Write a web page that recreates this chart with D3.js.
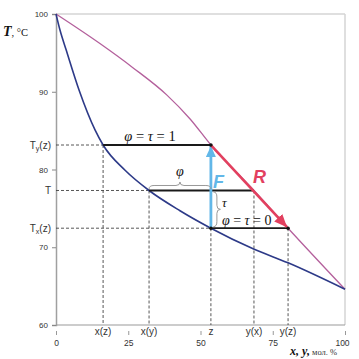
<!DOCTYPE html>
<html>
<head>
<meta charset="utf-8">
<script src="https://cdn.jsdelivr.net/npm/d3@7"></script>
<style>
  html, body { margin: 0; padding: 0; background: #fff; }
  svg { display: block; }
</style>
</head>
<body>
<svg id="chart" width="359" height="359"></svg>
<script>
// ---------- data ----------
const xTicks = [0, 25, 50, 75, 100];
const yTicks = [60, 70, 80, 90, 100];

// liquid (boiling) curve T(x)
const liquidX = [0, 1.4, 3.5, 8.0, 13.5, 16.3, 23.9, 32.2, 42.9, 53.6, 68.2, 80.3, 100];
const liquidT = [100, 97.9, 95.4, 90.2, 85.1, 83.15, 79.9, 77.3, 74.7, 72.45, 69.8, 68.0, 64.6];

// vapour (dew) curve T(y)
const vaporY = [0, 15.2, 26.6, 38.3, 46.4, 53.6, 68.5, 80.3, 100];
const vaporT = [100, 96.2, 93.1, 89.6, 86.5, 83.15, 77.3, 72.45, 64.6];

// special compositions on the x axis
const specialXLabels = ["x(z)", "x(y)", "z", "y(x)", "y(z)"];
const specialXValues = [16.3, 32.2, 53.6, 68.5, 80.3];

// special temperatures on the y axis
const specialYNames = ["Ty(z)", "T", "Tx(z)"];
const specialYValues = [83.15, 77.3, 72.45];

// ---------- layout ----------
const svg = d3.select("#chart");
const mLeft = 56, mRight = 345, mTop = 14, mBottom = 325;
const x = d3.scaleLinear().domain([0, 100]).range([mLeft, mRight]);
const y = d3.scaleLinear().domain([60, 100]).range([mBottom, mTop]);

const [xz, xy, z, yx, yz] = specialXValues;
const [Tyz, T, Txz] = specialYValues;

const sans = "'Liberation Sans', Arial, sans-serif";
const serif = "'Liberation Serif', 'Times New Roman', serif";

// frame
svg.append("line").attr("x1", x(0)).attr("x2", x(100)).attr("y1", y(100)).attr("y2", y(100))
  .attr("stroke", "#d4d4d4").attr("stroke-width", 1.5);
svg.append("line").attr("x1", x(100)).attr("x2", x(100)).attr("y1", y(100)).attr("y2", y(60))
  .attr("stroke", "#d4d4d4").attr("stroke-width", 1.5);

// y axis
const yAxis = svg.append("g").attr("transform", `translate(${mLeft},0)`)
  .call(d3.axisLeft(y).tickValues(yTicks).tickSize(4).tickPadding(4));
yAxis.select(".domain").attr("stroke", "#a0a0a0").attr("stroke-width", 1.5);
yAxis.selectAll(".tick line").attr("stroke", "#888");
yAxis.selectAll(".tick text").attr("font-family", sans).attr("font-size", 8).attr("fill", "#333");

// x axis line
svg.append("line").attr("x1", x(0)).attr("x2", x(100)).attr("y1", y(60)).attr("y2", y(60))
  .attr("stroke", "#999").attr("stroke-width", 1.2);
// x ticks & labels (below the special labels)
const xAxis = svg.append("g").attr("transform", `translate(0,${mBottom + 6})`)
  .call(d3.axisBottom(x).tickValues(xTicks).tickSize(4).tickPadding(5));
xAxis.select(".domain").remove();
xAxis.selectAll(".tick line").attr("stroke", "#999");
xAxis.selectAll(".tick text").attr("font-family", sans).attr("font-size", 8.5).attr("fill", "#333")
  .attr("dx", d => d === 100 ? -3 : 0);

// dashed guides
const dash = svg.append("g").attr("stroke", "#444").attr("stroke-width", 0.9)
  .attr("stroke-dasharray", "3,2").attr("fill", "none");
const vGuides = [[xz, Tyz], [xy, T], [z, Txz], [yx, T], [yz, Txz]];
vGuides.forEach(([vx, vt]) => {
  dash.append("line").attr("x1", x(vx)).attr("x2", x(vx)).attr("y1", y(vt)).attr("y2", y(60));
});
const hGuides = [[xz, Tyz], [xy, T], [z, Txz]];
hGuides.forEach(([vx, vt]) => {
  dash.append("line").attr("x1", x(0)).attr("x2", x(vx)).attr("y1", y(vt)).attr("y2", y(vt));
});

// curves
const line = d3.line().x(d => x(d[0])).y(d => y(d[1])).curve(d3.curveMonotoneX);
svg.append("path").datum(vaporY.map((v, i) => [v, vaporT[i]]))
  .attr("d", line).attr("fill", "none").attr("stroke", "#b4609c").attr("stroke-width", 1.3);
svg.append("path").datum(liquidX.map((v, i) => [v, liquidT[i]]))
  .attr("d", line).attr("fill", "none").attr("stroke", "#2d3a88").attr("stroke-width", 1.6);

// tie lines
const tie = svg.append("g").attr("stroke", "#1a1a1a").attr("stroke-width", 1.8);
tie.append("line").attr("x1", x(xz)).attr("x2", x(z)).attr("y1", y(Tyz)).attr("y2", y(Tyz));
tie.append("line").attr("x1", x(xy)).attr("x2", x(yx)).attr("y1", y(T)).attr("y2", y(T));
tie.append("line").attr("x1", x(z)).attr("x2", x(yz)).attr("y1", y(Txz)).attr("y2", y(Txz));

// arrow markers
const defs = svg.append("defs");
function marker(id, color, len, wid) {
  defs.append("marker").attr("id", id).attr("markerUnits", "userSpaceOnUse")
    .attr("viewBox", `0 0 ${len} ${wid}`).attr("refX", len).attr("refY", wid / 2)
    .attr("markerWidth", len).attr("markerHeight", wid).attr("orient", "auto")
    .append("path").attr("d", `M0,0 L${len},${wid / 2} L0,${wid} Z`).attr("fill", color);
}
marker("arrF", "#62b7e8", 11, 10);
marker("arrR", "#e2405f", 13, 11);

// F arrow (feed, vertical)
svg.append("line").attr("x1", x(z)).attr("x2", x(z)).attr("y1", y(Txz)).attr("y2", y(Tyz) + 1)
  .attr("stroke", "#62b7e8").attr("stroke-width", 2.8).attr("marker-end", "url(#arrF)");
// R arrow (along dew curve)
svg.append("line").attr("x1", x(z)).attr("y1", y(Tyz)).attr("x2", x(yz) - 1).attr("y2", y(Txz) - 1)
  .attr("stroke", "#e2405f").attr("stroke-width", 2.6).attr("marker-end", "url(#arrR)");

// dots
[[z, Tyz], [z, Txz], [yz, Txz]].forEach(([vx, vt]) => {
  svg.append("circle").attr("cx", x(vx)).attr("cy", y(vt)).attr("r", 1.8).attr("fill", "#111");
});

// braces
function hBrace(x1, x2, yb, h) {
  const m = (x1 + x2) / 2;
  return `M${x1},${yb} Q${x1},${yb - h / 2} ${x1 + 5},${yb - h / 2} L${m - 4},${yb - h / 2} Q${m},${yb - h / 2} ${m},${yb - h} Q${m},${yb - h / 2} ${m + 4},${yb - h / 2} L${x2 - 5},${yb - h / 2} Q${x2},${yb - h / 2} ${x2},${yb}`;
}
function vBrace(xb, y1, y2, w) {
  const m = (y1 + y2) / 2;
  return `M${xb},${y1} Q${xb + w / 2},${y1} ${xb + w / 2},${y1 + 5} L${xb + w / 2},${m - 4} Q${xb + w / 2},${m} ${xb + w},${m} Q${xb + w / 2},${m} ${xb + w / 2},${m + 4} L${xb + w / 2},${y2 - 5} Q${xb + w / 2},${y2} ${xb},${y2}`;
}
svg.append("path").attr("d", hBrace(x(xy), x(z), y(T) - 1.5, 7))
  .attr("fill", "none").attr("stroke", "#999").attr("stroke-width", 1);
svg.append("path").attr("d", vBrace(x(z) + 2.5, y(T) + 1.5, y(Txz) - 1.5, 7))
  .attr("fill", "none").attr("stroke", "#999").attr("stroke-width", 1);

// greek labels
function greekText(tx, ty, anchor, parts, size) {
  const t = svg.append("text").attr("x", tx).attr("y", ty).attr("text-anchor", anchor)
    .attr("font-family", serif).attr("font-size", size).attr("fill", "#111");
  parts.forEach(([s, it]) => t.append("tspan").text(s).attr("font-style", it ? "italic" : "normal"));
  return t;
}
greekText((x(xz) + x(z)) / 2 - 7, y(Tyz) - 4, "middle",
  [["φ", true], [" = ", false], ["τ", true], [" = 1", false]], 14.5);
greekText(x(z) + 11, y(Txz) - 3.5, "start",
  [["φ", true], [" = ", false], ["τ", true], [" = 0", false]], 14);
greekText((x(xy) + x(z)) / 2, y(T) - 14, "middle", [["φ", true]], 14);
greekText(x(z) + 11, (y(T) + y(Txz)) / 2 - 2, "start", [["τ", true]], 13);

// F and R labels
svg.append("text").attr("x", x(z) + 2).attr("y", (y(Tyz) + y(Txz)) / 2 + 1)
  .attr("font-family", sans).attr("font-weight", "bold").attr("font-style", "italic")
  .attr("font-size", 18).attr("fill", "#62b7e8").text("F");
svg.append("text").attr("x", x(yx) - 1).attr("y", y(T) - 7)
  .attr("font-family", sans).attr("font-weight", "bold").attr("font-style", "italic")
  .attr("font-size", 18).attr("fill", "#e2405f").text("R");

// special y labels
specialYNames.forEach((name, i) => {
  const t = svg.append("text").attr("x", mLeft - 5).attr("y", y(specialYValues[i]) + 3.5)
    .attr("text-anchor", "end").attr("font-family", sans).attr("font-size", 10).attr("fill", "#333");
  t.append("tspan").text(name[0]);
  if (name.length > 1) {
    t.append("tspan").text(name[1]).attr("font-size", 7).attr("dy", 2);
    t.append("tspan").text(name.slice(2)).attr("dy", -2);
  }
});

// special x labels
specialXLabels.forEach((lab, i) => {
  svg.append("text").attr("x", x(specialXValues[i])).attr("y", mBottom + 10)
    .attr("text-anchor", "middle").attr("font-family", sans).attr("font-size", 10)
    .attr("fill", "#333").text(lab);
});

// axis titles
const yt = svg.append("text").attr("x", 3).attr("y", 36).attr("font-family", serif).attr("fill", "#111");
yt.append("tspan").text("T").attr("font-weight", "bold").attr("font-style", "italic").attr("font-size", 14);
yt.append("tspan").text(", °C").attr("font-size", 10.5);

const xt = svg.append("text").attr("x", 290).attr("y", 355).attr("font-family", serif).attr("fill", "#111");
xt.append("tspan").text("x, y,").attr("font-weight", "bold").attr("font-style", "italic").attr("font-size", 12);
xt.append("tspan").text(" мол. %").attr("font-size", 8.5).attr("fill", "#333");
</script>
</body>
</html>
